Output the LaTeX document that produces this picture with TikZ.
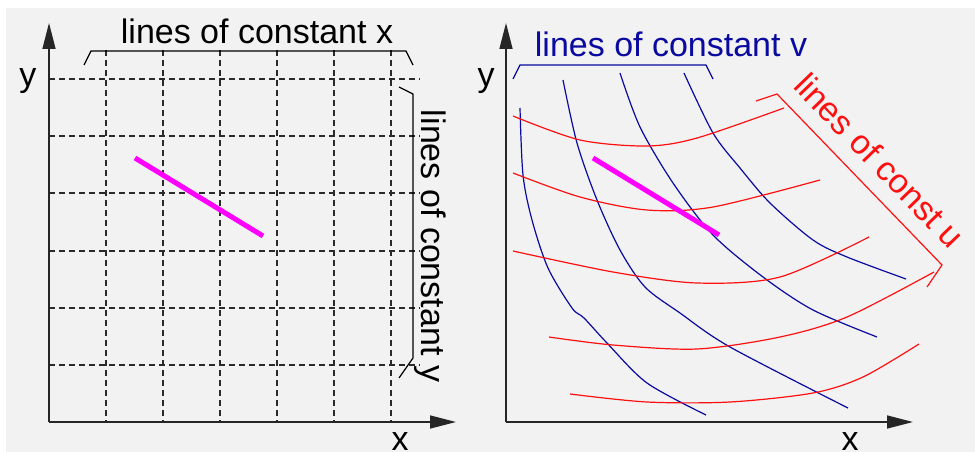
\documentclass[tikz,border=0pt]{standalone}
\usepackage{fontspec}
\setmainfont{Liberation Sans}
\usetikzlibrary{arrows.meta}
\definecolor{BgGrey}{HTML}{F2F2F2}
\definecolor{GridGrey}{HTML}{2A2A2A}
\definecolor{DeepBlue}{HTML}{0A0AA0}
\definecolor{LineRed}{HTML}{FF1010}
\definecolor{Magenta}{HTML}{FF00FF}

\begin{document}
\begin{tikzpicture}[x=1pt,y=-1pt,
  axis/.style={-{Triangle[length=26pt,width=13pt]},line width=1.5pt,draw=black!85},
  gridline/.style={dashed,dash pattern=on 6pt off 4pt,line width=1.1pt,draw=GridGrey},
  lbl/.style={font=\fontsize{34}{40}\selectfont,inner sep=0pt},
  brak/.style={line width=1.2pt},
  vline/.style={DeepBlue,line width=1.2pt},
  uline/.style={LineRed,line width=1.2pt},
  seg/.style={Magenta,line width=5pt}
]
  \useasboundingbox (0,0) rectangle (975,452);
  \fill[BgGrey] (6,8) rectangle (975,452);

  % Left panel: cartesian grid
  \coordinate (o1) at (49,422);
  \coordinate (yt1) at (49,23);
  \coordinate (xt1) at (456,422);
  \foreach \gx in {106,163,220,277,334,391}
    \draw[gridline] (\gx,50) -- (\gx,422);
  \foreach \gy in {79,136,193,251,308,365}
    \draw[gridline] (49,\gy) -- (420,\gy);
  \draw[axis] (o1) -- (yt1);
  \draw[axis] (o1) -- (xt1);
  \node[lbl,anchor=base] (ly1) at (28,86) {y};
  \node[lbl,anchor=base] (lx1) at (400,450) {x};
  \draw[seg] (135,158) -- (263,236);

  \draw[brak] (84,65) -- (91,51) -- (406,51) -- (413,65);
  \node[lbl,anchor=base] (cx) at (257,44) {lines of constant x};
  \draw[brak] (399,87) -- (413,94) -- (413,358) -- (399,378);
  \node[lbl,anchor=base,rotate=-90] (cy) at (421,246) {lines of constant y};

  % Right panel: curved coordinates
  \coordinate (o2) at (506,422);
  \coordinate (yt2) at (506,23);
  \coordinate (xt2) at (913,422);

  \draw[vline] plot[smooth] coordinates {(520,108) (523,175) (532,220) (548,268) (572,308) (584,318) (607,343) (647,383) (706,415)};
  \draw[vline] plot[smooth] coordinates {(563,80) (577,143) (597,200) (620,250) (645,287) (680,313) (730,347) (848,408)};
  \draw[vline] plot[smooth] coordinates {(620,73) (640,127) (673,183) (713,235) (763,277) (813,310) (877,337)};
  \draw[vline] plot[smooth] coordinates {(684,73) (713,133) (740,168) (770,203) (813,240) (847,257) (906,279)};

  \draw[uline] plot[smooth] coordinates {(513,116) (580,140) (647,146) (697,138) (784,108)};
  \draw[uline] plot[smooth] coordinates {(513,173) (580,197) (647,210) (713,207) (820,180)};
  \draw[uline] plot[smooth] coordinates {(513,251) (613,272) (697,283) (780,277) (869,237)};
  \draw[uline] plot[smooth] coordinates {(549,337) (613,345) (697,349) (780,337) (847,317) (934,272)};
  \draw[uline] plot[smooth] coordinates {(570,394) (647,402) (730,402) (813,393) (863,377) (919,344)};

  \draw[axis] (o2) -- (yt2);
  \draw[axis] (o2) -- (xt2);
  \node[lbl,anchor=base] (ly2) at (486,86) {y};
  \node[lbl,anchor=base] (lx2) at (850,450) {x};
  \draw[seg] (593,158) -- (719,235);

  \draw[brak,DeepBlue] (513,79) -- (520,65) -- (706,65) -- (713,79);
  \node[lbl,anchor=base,text=DeepBlue] (cv) at (671,57) {lines of constant v};
  \draw[brak,LineRed] (756,101) -- (777,94) -- (942,265) -- (927,287);
  \node[lbl,anchor=base,rotate=-46,text=LineRed] (cu) at (871,169) {lines of const u};
\end{tikzpicture}
\end{document}
